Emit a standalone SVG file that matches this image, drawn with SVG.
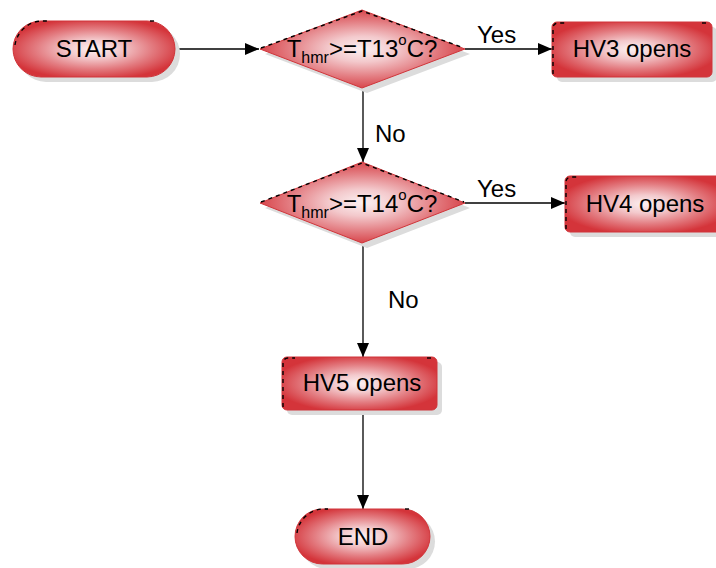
<svg xmlns="http://www.w3.org/2000/svg" width="716" height="568" viewBox="0 0 716 568">
  <style>
    .shape { fill: url(#redFill); stroke: #d0353a; stroke-width: 1; stroke-linejoin: round; }
    .shadow { fill: #dcdcdc; }
    .edge { fill: none; stroke: #000; stroke-width: 1.4; stroke-dasharray: 4 4; }
    .lbl { font-family: "Liberation Sans", Arial, sans-serif; font-size: 24px; fill: #000; }
    .conn { stroke: #000; stroke-width: 1.3; fill: none; marker-end: url(#arrow); }
  </style>
  <defs>
    <radialGradient id="redFill" cx="0.5" cy="0.5" r="0.55">
      <stop offset="0" stop-color="#fcf1f2"/>
      <stop offset="0.3" stop-color="#f3c9cc"/>
      <stop offset="0.65" stop-color="#e37c81"/>
      <stop offset="1" stop-color="#d4343a"/>
    </radialGradient>
    <marker id="arrow" markerUnits="userSpaceOnUse" markerWidth="14" markerHeight="12" refX="14" refY="6" orient="auto">
      <path d="M0,0 L14,6 L0,12 z" fill="#000"/>
    </marker>
  </defs>

  <!-- connectors -->
  <g id="connectors">
    <line class="conn" x1="175" y1="49" x2="259" y2="49"/>
    <line class="conn" x1="465" y1="49" x2="552" y2="49"/>
    <line class="conn" x1="363" y1="88" x2="363" y2="162"/>
    <line class="conn" x1="465" y1="203" x2="565" y2="203"/>
    <line class="conn" x1="363" y1="243" x2="363" y2="357"/>
    <line class="conn" x1="363" y1="410" x2="363" y2="509"/>
    <text class="lbl" x="477" y="43">Yes</text>
    <text class="lbl" x="375" y="142">No</text>
    <text class="lbl" x="477" y="197">Yes</text>
    <text class="lbl" x="388" y="308">No</text>
  </g>

  <!-- START terminator -->
  <g id="start">
    <rect class="shadow" x="18" y="26" width="162" height="56" rx="28"/>
    <rect class="shape" x="13" y="21" width="162" height="56" rx="28"/>
    <path class="edge" d="M15,45 A28,28 0 0 1 41,21 L48,21"/>
    <path class="edge" d="M150,21 L155,21"/>
    <text class="lbl" x="94" y="57" text-anchor="middle">START</text>
  </g>

  <!-- decision: T13 -->
  <g id="decision1">
    <polygon class="shadow" points="265,54 367,15 470,54 367,93"/>
    <polygon class="shape" points="260,49 362,10 465,49 362,88"/>
    <path class="edge" d="M261,48 L362,11 L464,48"/>
    <text class="lbl" x="362" y="57" text-anchor="middle">T<tspan font-size="16" dy="6">hmr</tspan><tspan dy="-6">&gt;=T13</tspan><tspan font-size="15" dy="-12">o</tspan><tspan dy="12">C?</tspan></text>
  </g>

  <!-- HV3 opens -->
  <g id="hv3">
    <rect class="shadow" x="557" y="27" width="160" height="55" rx="5"/>
    <rect class="shape" x="552" y="22" width="160" height="55" rx="5"/>
    <path class="edge" d="M553,74 L553,27 A5,5 0 0 1 558,23 L565,23"/>
    <path class="edge" d="M702,23 L707,23"/>
    <text class="lbl" x="632" y="57" text-anchor="middle">HV3 opens</text>
  </g>

  <!-- decision: T14 -->
  <g id="decision2">
    <polygon class="shadow" points="265,208 367,167 470,208 367,248"/>
    <polygon class="shape" points="260,203 362,162 465,203 362,243"/>
    <path class="edge" d="M261,202 L362,163 L464,202"/>
    <text class="lbl" x="362" y="212" text-anchor="middle">T<tspan font-size="16" dy="6">hmr</tspan><tspan dy="-6">&gt;=T14</tspan><tspan font-size="15" dy="-12">o</tspan><tspan dy="12">C?</tspan></text>
  </g>

  <!-- HV4 opens -->
  <g id="hv4">
    <rect class="shadow" x="570" y="181" width="160" height="56" rx="5"/>
    <rect class="shape" x="565" y="176" width="160" height="56" rx="5"/>
    <path class="edge" d="M566,229 L566,181 A5,5 0 0 1 571,177 L578,177"/>
    <text class="lbl" x="645" y="212" text-anchor="middle">HV4 opens</text>
  </g>

  <!-- HV5 opens -->
  <g id="hv5">
    <rect class="shadow" x="287" y="362" width="155" height="53" rx="5"/>
    <rect class="shape" x="282" y="357" width="155" height="53" rx="5"/>
    <path class="edge" d="M283,407 L283,362 A5,5 0 0 1 288,358 L295,358"/>
    <path class="edge" d="M427,358 L432,358"/>
    <text class="lbl" x="362" y="391" text-anchor="middle">HV5 opens</text>
  </g>

  <!-- END terminator -->
  <g id="end">
    <rect class="shadow" x="300" y="514" width="135" height="55" rx="27.5"/>
    <rect class="shape" x="295" y="509" width="135" height="55" rx="27.5"/>
    <path class="edge" d="M297,533 A27.5,27.5 0 0 1 322,509 L328,509"/>
    <path class="edge" d="M405,509 L410,509"/>
    <text class="lbl" x="363" y="545" text-anchor="middle">END</text>
  </g>
</svg>
